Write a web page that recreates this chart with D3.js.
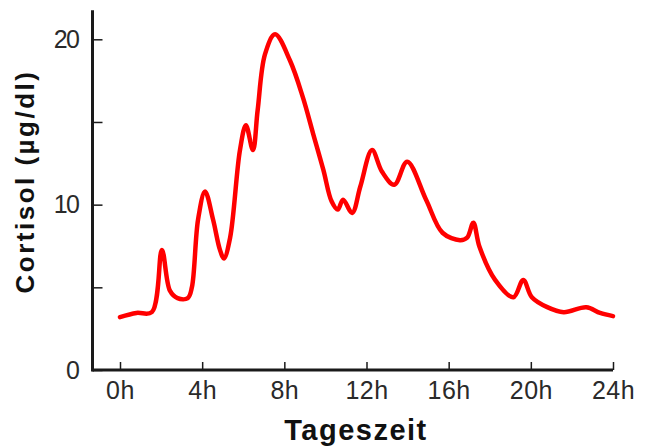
<!DOCTYPE html>
<html>
<head>
<meta charset="utf-8">
<script src="https://cdn.jsdelivr.net/npm/d3@7"></script>
<style>
  body { margin: 0; background: #fff; }
  svg { display: block; }
</style>
</head>
<body>
<div id="chart"></div>
<script>
var svgWidth = 651;
var svgHeight = 448;

// data
var hours = [0, 0.8, 1.55, 2.04, 2.43, 2.8, 3.3, 3.5, 3.8, 4.14, 4.53, 4.87, 5.06, 5.36, 5.84, 6.13, 6.47, 6.7, 7.06, 7.55,
  8.28, 8.9, 9.4, 9.9, 10.3, 10.6, 10.86, 11.3, 11.7, 12.27, 12.75, 13.35, 13.98, 14.9, 15.7, 16.55, 16.9, 17.2, 17.5,
  18.26, 19.15, 19.63, 20.05, 20.8, 21.6, 22.7, 23.37, 24];
var cortisol = [3.2, 3.45, 3.5, 7.25, 4.8, 4.35, 4.35, 5.0, 9.1, 10.8, 9.1, 7.25, 6.75, 8.0, 13.3, 14.8, 13.3, 15.7, 19.1, 20.3,
  18.7, 16.5, 14.3, 12.1, 10.2, 9.7, 10.3, 9.5, 11.1, 13.3, 12.0, 11.2, 12.6, 10.3, 8.3, 7.85, 8.0, 8.9, 7.45,
  5.45, 4.4, 5.45, 4.4, 3.8, 3.5, 3.8, 3.45, 3.26];

var xTickValues = [0, 4, 8, 12, 16, 20, 24];
var xTickLabels = ["0h", "4h", "8h", "12h", "16h", "20h", "24h"];
var yTickValues = [0, 5, 10, 15, 20];
var yTickLabels = ["0", "", "10", "", "20"];

var points = hours.map(function(h, i) { return { h: h, v: cortisol[i] }; });

var svg = d3.select("#chart")
  .append("svg")
  .attr("width", svgWidth)
  .attr("height", svgHeight);

var x = d3.scaleLinear().domain([0, 24]).range([120, 613]);
var y = d3.scaleLinear().domain([0, 20]).range([370, 39.3]);

var axisX = 92.5;   // where the y axis sits
var axisColor = "#1a1a1a";
var labelFont = "'Liberation Sans', Arial, sans-serif";

// x axis: ticks point up
var xAxis = svg.append("g")
  .attr("transform", "translate(0," + y(0) + ")")
  .call(d3.axisBottom(x)
    .tickValues(xTickValues)
    .tickFormat(function(d, i) { return xTickLabels[i]; })
    .tickSizeInner(-8)
    .tickSizeOuter(0)
    .tickPadding(11));
xAxis.select(".domain").remove();
xAxis.selectAll(".tick line").attr("stroke", axisColor).attr("stroke-width", 1.5);
xAxis.selectAll(".tick text")
  .attr("fill", "#2a2a2a")
  .style("font-family", labelFont)
  .style("font-size", "25px")
  .style("letter-spacing", "0.5px");

// y axis: ticks point right
var yAxis = svg.append("g")
  .attr("transform", "translate(" + axisX + ",0)")
  .call(d3.axisLeft(y)
    .tickValues(yTickValues)
    .tickFormat(function(d, i) { return yTickLabels[i]; })
    .tickSizeInner(-10)
    .tickSizeOuter(0)
    .tickPadding(14));
yAxis.select(".domain").remove();
yAxis.selectAll(".tick line").attr("stroke", axisColor).attr("stroke-width", 1.5);
yAxis.selectAll(".tick text")
  .attr("fill", "#2a2a2a")
  .style("font-family", labelFont)
  .style("font-size", "25px")
  .style("letter-spacing", "-1.5px");

// the axis lines run past the ticks
svg.append("line")
  .attr("x1", axisX).attr("x2", x(24))
  .attr("y1", y(0)).attr("y2", y(0))
  .attr("stroke", axisColor).attr("stroke-width", 3);
svg.append("line")
  .attr("x1", axisX).attr("x2", axisX)
  .attr("y1", y(0) + 1.5).attr("y2", y(21.75))
  .attr("stroke", axisColor).attr("stroke-width", 3);

// cortisol curve
var line = d3.line()
  .x(function(d) { return x(d.h); })
  .y(function(d) { return y(d.v); })
  .curve(d3.curveCatmullRom.alpha(0.5));

svg.append("path")
  .datum(points)
  .attr("d", line)
  .attr("fill", "none")
  .attr("stroke", "#ff0000")
  .attr("stroke-width", 4.5)
  .attr("stroke-linejoin", "round")
  .attr("stroke-linecap", "round");

// axis titles
svg.append("text")
  .attr("transform", "translate(34," + 181.5 + ") rotate(-90)")
  .attr("text-anchor", "middle")
  .style("font-family", labelFont)
  .style("font-weight", "bold")
  .style("font-size", "26px")
  .style("letter-spacing", "2.5px")
  .attr("fill", "#111")
  .text("Cortisol (µg/dl)");

svg.append("text")
  .attr("x", 356)
  .attr("y", 440)
  .attr("text-anchor", "middle")
  .style("font-family", labelFont)
  .style("font-weight", "bold")
  .style("font-size", "29px")
  .style("letter-spacing", "1.5px")
  .attr("fill", "#111")
  .text("Tageszeit");
</script>
</body>
</html>
